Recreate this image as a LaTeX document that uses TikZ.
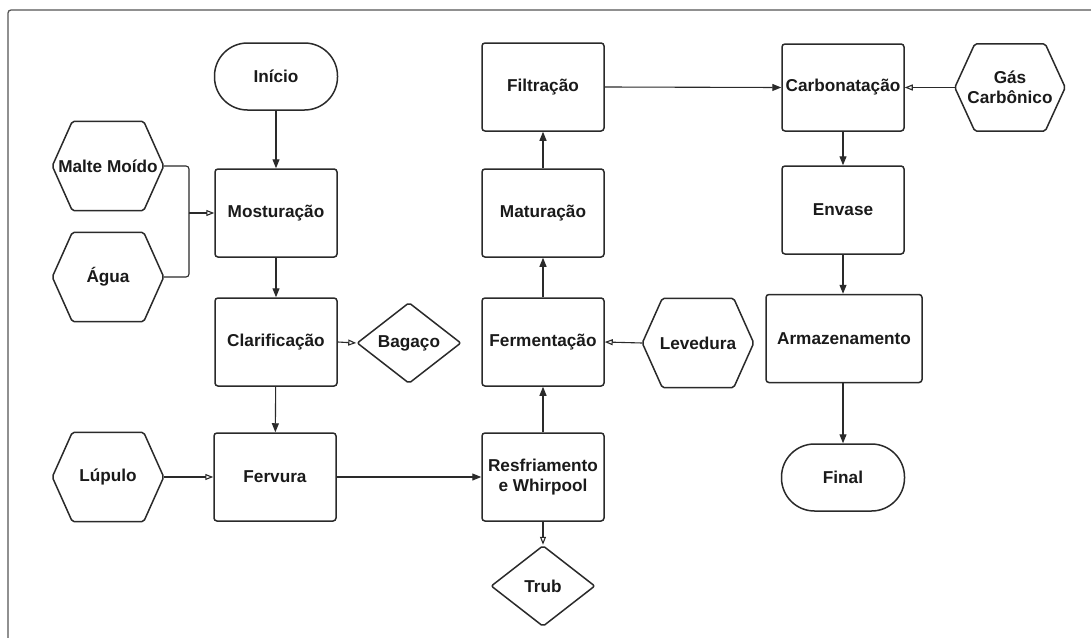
\documentclass[tikz,border=0pt]{standalone}
\usepackage{fontspec}
\setmainfont{Liberation Sans}
\usetikzlibrary{shapes.geometric,arrows.meta}
\definecolor{ln}{HTML}{2A2A2A}
\definecolor{txt}{HTML}{1A1A1A}
\definecolor{frm}{HTML}{555555}
\newcommand\hexdraw[1]{\draw[hexline] (#1.west) -- ([xshift=20pt]#1.north west) -- ([xshift=-20pt]#1.north east) -- (#1.east) -- ([xshift=-20pt]#1.south east) -- ([xshift=20pt]#1.south west) -- cycle;}
\begin{document}
\begin{tikzpicture}[x=1pt,y=-1pt,
  every node/.style={font=\fontsize{17.2}{20.5}\selectfont\bfseries, text=txt},
  proc/.style={draw=ln, line width=1.5pt, rounded corners=3pt, minimum width=122pt, minimum height=88pt, inner sep=0pt, align=center},
  term/.style={draw=ln, line width=1.5pt, rounded corners=33pt, minimum width=123pt, minimum height=67pt, inner sep=0pt},
  hexn/.style={minimum width=111pt, minimum height=89pt, inner sep=0pt, align=center},
  hexline/.style={draw=ln, line width=1.5pt, rounded corners=2pt},
  dia/.style={draw=ln, line width=1.5pt, diamond, aspect=1.28, minimum width=104pt, minimum height=81pt, inner sep=0pt, rounded corners=2pt},
  fa/.style={draw=ln, line width=1.1pt, -{Triangle[length=9pt,width=7pt]}},
  oa/.style={draw=ln, line width=1.1pt, -{Triangle[open,length=8pt,width=6pt]}},
  cl/.style={draw=ln, line width=1.1pt, rounded corners=3pt}
]
\useasboundingbox (0,0) rectangle (1091,637);
\fill[white] (0,0) rectangle (1091,637);
\draw[frm, line width=1.3pt, rounded corners=3pt] (8,640) -- (8,10) -- (1095,10);

% left column
\node[term] (ini) at (276,76.5) {Início};
\node[proc] (most) at (276,213) {Mosturação};
\node[proc] (clar) at (276,342) {Clarificação};
\node[proc] (ferv) at (275,477) {Fervura};

\node[hexn] (malte) at (108,166) {Malte Moído};
\node[hexn] (agua) at (108,277) {Água};
\node[hexn] (lup) at (108,477) {Lúpulo};
\hexdraw{malte}
\hexdraw{agua}
\hexdraw{lup}

\node[dia] (bag) at (409,343) {Bagaço};

% middle column
\node[proc] (filt) at (543,87) {Filtração};
\node[proc] (mat) at (543,213) {Maturação};
\node[proc] (ferm) at (543,342) {Fermentação};
\node[proc] (resf) at (543,477) {Resfriamento\\e Whirpool};
\node[dia] (trub) at (543,586) {Trub};

\node[hexn] (lev) at (698,343) {Levedura};
\hexdraw{lev}

% right column
\node[proc, minimum height=87pt] (carb) at (843,87.5) {Carbonatação};
\node[proc] (env) at (843,210) {Envase};
\node[proc, minimum width=156pt] (arm) at (844,338.5) {Armazenamento};
\node[term] (fin) at (843,477.5) {Final};

\node[hexn, minimum height=87pt, minimum width=110pt] (gas) at (1010,87.5) {Gás\\Carbônico};
\hexdraw{gas}

% connectors
\draw[fa] (ini) -- (most);
\draw[fa] (most) -- (clar);
\draw[fa] (clar) -- (ferv);
\draw[fa] (ferv) -- (resf);
\draw[fa] (resf) -- (ferm);
\draw[fa] (ferm) -- (mat);
\draw[fa] (mat) -- (filt);
\draw[fa] (filt.east) -- (carb.west);
\draw[fa] (carb) -- (env);
\draw[fa] (env.south) -- (env.south |- arm.north);
\draw[fa] (env.south |- arm.south) -- (fin.north -| env.south);

\coordinate (mj) at (189,213);
\draw[cl] (malte.east) -| (mj);
\draw[cl] (agua.east) -| (mj);
\draw[oa] (mj) -- (most.west);
\draw[oa] (lup.east) -- (ferv.west);
\draw[oa] (clar.east) -- (bag.west);
\draw[oa] (resf.south) -- (trub.north);
\draw[oa] (lev.west) -- (ferm.east);
\draw[oa] (gas.west) -- (carb.east);
\end{tikzpicture}
\end{document}
